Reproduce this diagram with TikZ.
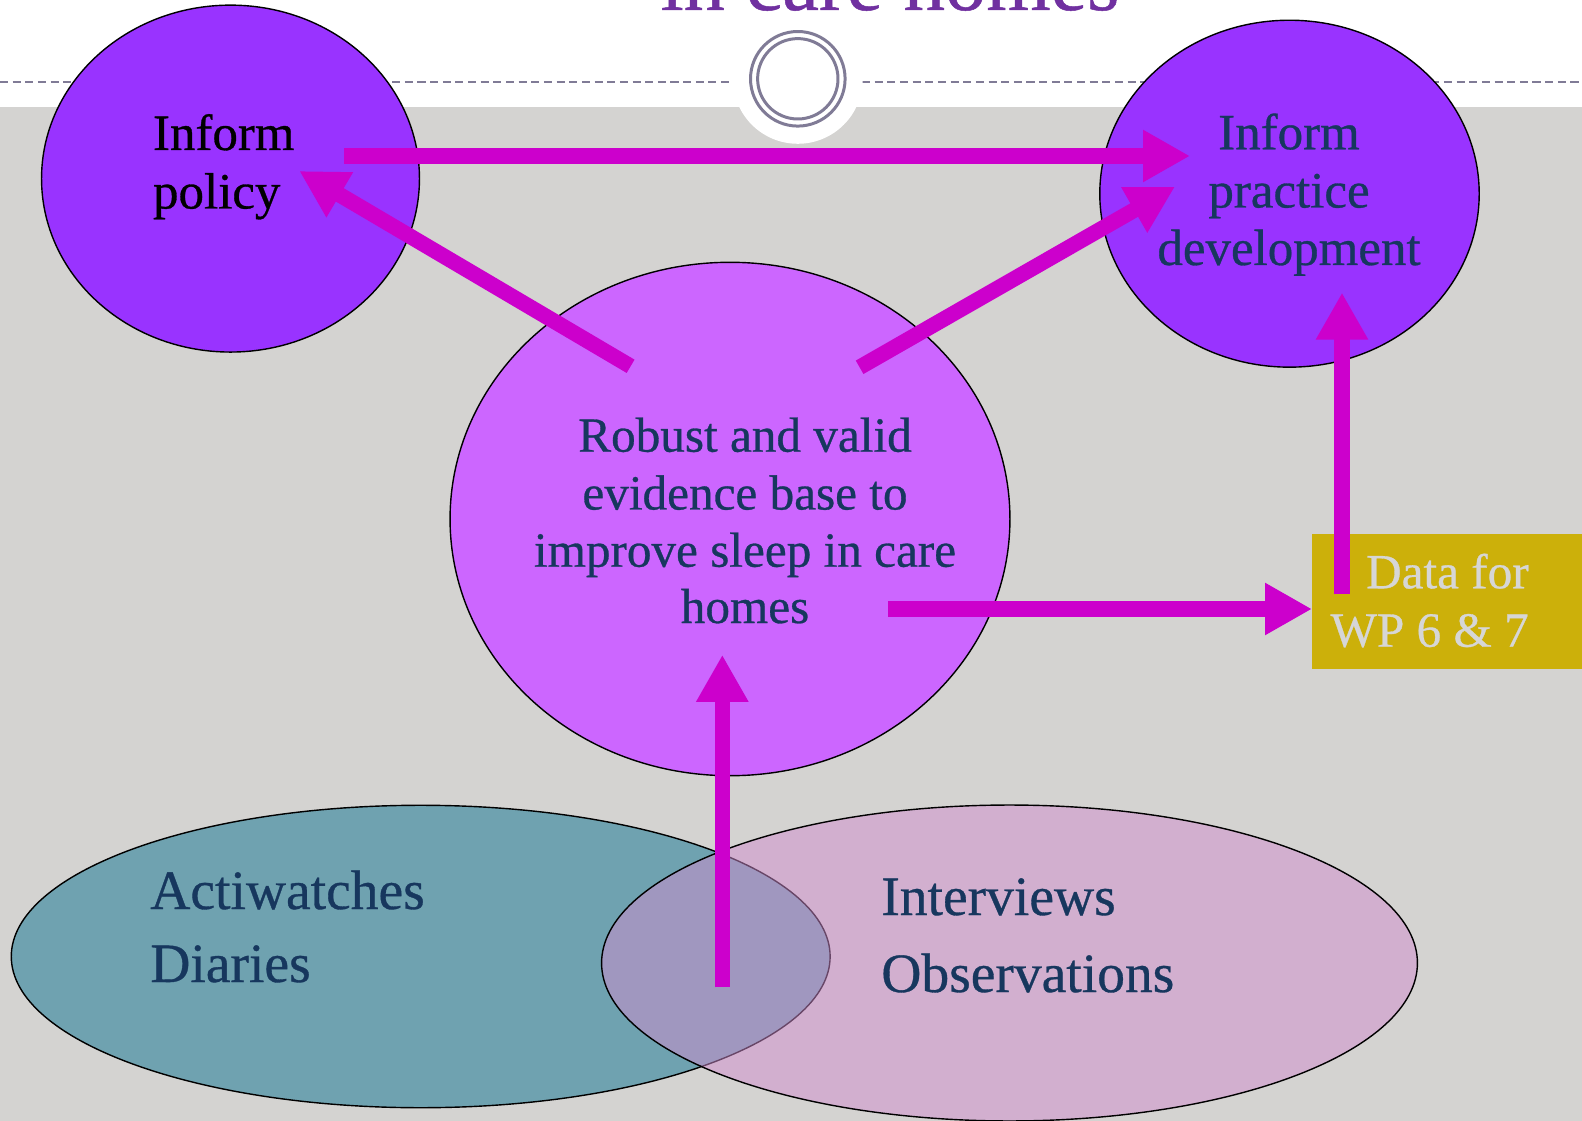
\documentclass[tikz,border=0pt]{standalone}
\usepackage{fontspec}
\setmainfont{Liberation Serif}[FakeBold=0.6]
\usetikzlibrary{shapes.geometric,arrows.meta}
\definecolor{bggray}{HTML}{D4D3D1}
\definecolor{ringgray}{HTML}{807B96}
\definecolor{titlepurple}{HTML}{7030A0}
\definecolor{violetA}{HTML}{9933FF}
\definecolor{violetB}{HTML}{CC66FF}
\definecolor{tealE}{HTML}{6FA2B0}
\definecolor{pinkE}{RGB}{209,141,207}
\definecolor{databox}{HTML}{CCB00A}
\definecolor{arrowmag}{HTML}{CC00CC}
\definecolor{navy}{HTML}{17375E}
\definecolor{lightgr}{HTML}{D6D6D6}
\tikzset{
  ell/.style={ellipse, draw=black, line width=0.8pt, inner sep=0pt, outer sep=0pt},
  bigarrow/.style={draw=arrowmag, line width=0.31cm, -{Triangle[length=0.94cm,width=0.98cm]}},
  dashline/.style={draw=ringgray, line width=1.1pt, dash pattern=on 4.6pt off 2.6pt},
  ring/.style={draw=ringgray, line width=1.7pt},
  tmid/.style={font=\fontsize{28}{34}\selectfont, text=navy, inner sep=0pt, anchor=base},
  tpol/.style={font=\fontsize{29}{35}\selectfont, inner sep=0pt},
  tbig/.style={font=\fontsize{31.6}{38}\selectfont, text=navy, inner sep=0pt, anchor=base west},
  tdata/.style={font=\fontsize{28}{34}\selectfont, text=lightgr, inner sep=0pt, anchor=base east},
}
\begin{document}
\begin{tikzpicture}[x=0.02cm,y=-0.02cm]
\useasboundingbox (0,0) rectangle (1582,1121);
% background
\fill[white] (0,0) rectangle (1582,1121);
\fill[bggray] (0,107) rectangle (1582,1121);
% title (cut off at top, as in the reference)
\node[anchor=base, font=\fontsize{47}{56}\selectfont, text=titlepurple, inner sep=0pt] (title) at (890,10) {in care homes};
% dashed rule and ring ornament
\coordinate (dl0) at (0,81.7);
\coordinate (dl1) at (732,81.7);
\coordinate (dr0) at (862,81.7);
\coordinate (dr1) at (1582,81.7);
\draw[dashline] (dl0) -- (dl1);
\draw[dashline] (dr0) -- (dr1);
\node[circle, fill=white, minimum size=2.6cm, inner sep=0pt] (disk) at (797.8,78.8) {};
\node[circle, ring, minimum size=1.892cm, inner sep=0pt] (ringout) at (797.8,78.8) {};
\node[circle, ring, minimum size=1.608cm, inner sep=0pt] (ringin) at (797.8,78.8) {};
% ellipses
\node[ell, fill=violetA, minimum width=7.56cm, minimum height=6.94cm] (policy) at (230.5,178.6) {};
\node[ell, fill=violetA, minimum width=7.59cm, minimum height=6.94cm] (practice) at (1289.5,193.7) {};
\node[ell, fill=violetB, minimum width=11.2cm, minimum height=10.27cm] (evidence) at (730,519) {};
\node[ell, fill=tealE, minimum width=16.38cm, minimum height=6.05cm] (quant) at (420.7,956.5) {};
\node[ell, fill=pinkE, fill opacity=0.5, minimum width=16.32cm, minimum height=6.32cm] (qual) at (1009.5,963) {};
% data box
\node[rectangle, fill=databox, anchor=north west, minimum width=5.4cm, minimum height=2.686cm, inner sep=0pt] (data) at (1312,534) {};
% arrow end points
\coordinate (a1s) at (344,156);   \coordinate (a1e) at (1190,156);
\coordinate (a2s) at (630.6,366.3); \coordinate (a2e) at (299.3,171);
\coordinate (a3s) at (859.6,367.3); \coordinate (a3e) at (1175,186.7);
\coordinate (a4s) at (887.9,609);   \coordinate (a4e) at (1312,609);
\coordinate (a5s) at (1342,594);    \coordinate (a5e) at (1342,292.6);
\coordinate (a6s) at (722.3,987.3); \coordinate (a6e) at (722.3,654.8);
\draw[bigarrow] (a1s) -- (a1e);
\draw[bigarrow] (a2s) -- (a2e);
\draw[bigarrow] (a3s) -- (a3e);
\draw[bigarrow] (a4s) -- (a4e);
\draw[bigarrow] (a5s) -- (a5e);
\draw[bigarrow] (a6s) -- (a6e);
% texts
\node[tpol, anchor=base west, text=black] (pol1) at (152.7,150) {Inform};
\node[tpol, anchor=base west, text=black] (pol2) at (152.7,208.5) {policy};
\node[tpol, anchor=base, text=navy] (pr1) at (1289,149.3) {Inform};
\node[tpol, anchor=base, text=navy] (pr2) at (1289,207.5) {practice};
\node[tpol, anchor=base, text=navy] (pr3) at (1289,265) {development};
\node[tmid] (ev1) at (745,451.7) {Robust and valid};
\node[tmid] (ev2) at (745,509.5) {evidence base to};
\node[tmid] (ev3) at (745,566.7) {improve sleep in care};
\node[tmid] (ev4) at (745,623) {homes};
\node[tdata] (d1) at (1529,588.3) {Data for};
\node[tdata] (d2) at (1529,646.7) {WP 6 \& 7};
\node[tbig] (q1) at (150,909) {Actiwatches};
\node[tbig] (q2) at (150,982) {Diaries};
\node[tbig] (q3) at (881,915) {Interviews};
\node[tbig] (q4) at (881,992) {Observations};
\end{tikzpicture}
\end{document}
